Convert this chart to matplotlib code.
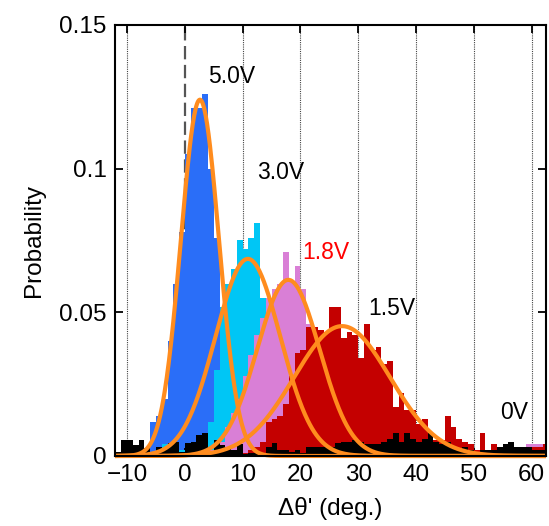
import numpy as np
import matplotlib
matplotlib.use('Agg')
import matplotlib.pyplot as plt

plt.rcParams['font.family'] = ['Liberation Sans', 'DejaVu Sans']

# histogram values, 1 deg bins, each list starts at the given left edge
v50_start = -7
v50 = [0.002, 0.012, 0.014, 0.02, 0.04, 0.06, 0.078, 0.105, 0.121, 0.121,
       0.126, 0.100, 0.076, 0.052, 0.03, 0.01, 0.003]

v30_start = -5
v30 = [0.002, 0.004, 0.004, 0.004, 0.002, 0.002, 0.003, 0.004, 0.006, 0.012,
       0.03, 0.052, 0.06, 0.065, 0.075, 0.072, 0.076, 0.081, 0.055, 0.05,
       0.035, 0.025, 0.015, 0.008, 0.004, 0.002]

v18_start = 4
v18 = [0.002, 0.003, 0.005, 0.01, 0.015, 0.02, 0.028, 0.035, 0.042, 0.048,
       0.055, 0.058, 0.06, 0.071, 0.061, 0.066, 0.058, 0.046, 0.04, 0.035,
       0.028, 0.02, 0.015, 0.01, 0.007, 0.004, 0.003, 0.002, 0.002, 0.003,
       0.002, 0.002, 0.003, 0.002, 0.002, 0.003, 0.002, 0.0095, 0.002, 0.002,
       0.003, 0.002, 0.002, 0.002, 0.002, 0.001, 0.002, 0.002, 0.001, 0.002,
       0.002, 0.002, 0.002, 0.002, 0.002, 0.004, 0.004, 0.004, 0.004]

v15_start = 9
v15 = [0.001, 0.001, 0.002, 0.003, 0.005, 0.012, 0.013, 0.014, 0.018, 0.028,
       0.036, 0.037, 0.045, 0.045, 0.044, 0.043, 0.052, 0.052, 0.041, 0.043,
       0.042, 0.034, 0.046, 0.037, 0.038, 0.032, 0.033, 0.017, 0.022, 0.016,
       0.016, 0.011, 0.013, 0.008, 0.0056, 0.0056, 0.014, 0.010, 0.006, 0.005,
       0.004, 0.002, 0.008, 0.002, 0.004, 0.003, 0.002, 0.002, 0.002, 0.002,
       0.003, 0.003, 0.003, 0.004]

v0_start = -12
v0 = [0.0014, 0.0056, 0.0056, 0.0038, 0.0056, 0.0028, 0.001, 0.003, 0.0028, 0.0045,
      0.005, 0.0014, 0.0045, 0.005, 0.0073, 0.008, 0.0014, 0.0056, 0.0038, 0.003,
      0.002, 0.004, 0.0008, 0.0012, 0.0012, 0.0012, 0.003, 0.0045, 0.002, 0.002,
      0.0014, 0.002, 0.001, 0.003, 0.003, 0.003, 0.003, 0.003, 0.0045, 0.005,
      0.005, 0.0056, 0.005, 0.004, 0.004, 0.004, 0.005, 0.006, 0.008, 0.005,
      0.008, 0.006, 0.005, 0.006, 0.008, 0.005, 0.004, 0.005, 0.003, 0.002,
      0.003, 0.002, 0.001, 0.002, 0.002, 0.002, 0.003, 0.004, 0.005, 0.003,
      0.003, 0.003, 0.002, 0.002, 0.002]

# gaussian fits (5.0V, 3.0V, 1.8V, 1.5V)
fit_center = [2.6, 10.9, 17.9, 27.2]
fit_sigma = [3.3, 5.6, 5.4, 8.3]
fit_amp = [0.124, 0.0686, 0.0613, 0.0452]

labels = ['5.0V', '3.0V', '1.8V', '1.5V', '0V']
label_x = [4.0, 12.5, 20.3, 31.7, 54.6]
label_y = [0.132, 0.0988, 0.0707, 0.0515, 0.015]
label_colors = ['black', 'black', '#ff0000', 'black', 'black']

xticks = [-10, 0, 10, 20, 30, 40, 50, 60]
yticks = [0, 0.05, 0.1, 0.15]
yticklabels = ['0', '0.05', '0.1', '0.15']

fig = plt.figure(figsize=(5.49, 5.26), dpi=100)
ax = fig.add_axes([0.2095, 0.1331, 0.785, 0.8194])

xmin, xmax = -12.1, 62.5

# grid lines
for g in xticks:
    if g == 0:
        ax.axvline(g, color='#555555', lw=1.6, ls=(0, (6, 2.5)), zorder=0)
    else:
        ax.axvline(g, color='#444444', lw=0.8, ls=(0, (1, 1)), zorder=0)

series = [(v50_start, v50, '#2a6ef8'),
          (v30_start, v30, '#00c6f5'),
          (v18_start, v18, '#d97fd6'),
          (v15_start, v15, '#c40000'),
          (v0_start, v0, 'black')]
for i, (start, vals, col) in enumerate(series):
    edges = start + np.arange(len(vals))
    ax.bar(edges, vals, width=1.0, align='edge', color=col, linewidth=0, zorder=1 + i)

xf = np.linspace(xmin, xmax, 600)
for c, s, a in zip(fit_center, fit_sigma, fit_amp):
    ax.plot(xf, a * np.exp(-(xf - c) ** 2 / (2 * s ** 2)), color='#ff8c1e', lw=3,
            zorder=7, clip_on=False, solid_capstyle='butt')

for t, x, y, col in zip(labels, label_x, label_y, label_colors):
    ax.text(x, y, t, color=col, fontsize=16.5, va='center', ha='left', zorder=9)

ax.set_xlim(xmin, xmax)
ax.set_ylim(0, 0.15)
ax.set_xticks(xticks)
ax.set_yticks(yticks)
ax.set_yticklabels(yticklabels)
ax.tick_params(axis='both', direction='in', labelsize=17.5, width=1.3, length=6,
               top=True, right=True, pad=6)
for sp in ax.spines.values():
    sp.set_linewidth(1.5)
    sp.set_zorder(10)

ax.set_xlabel("Δθ' (deg.)", fontsize=17.5, labelpad=8)
ax.set_ylabel('Probability', fontsize=17.5, labelpad=10)

fig.savefig('out.png', dpi=100)
